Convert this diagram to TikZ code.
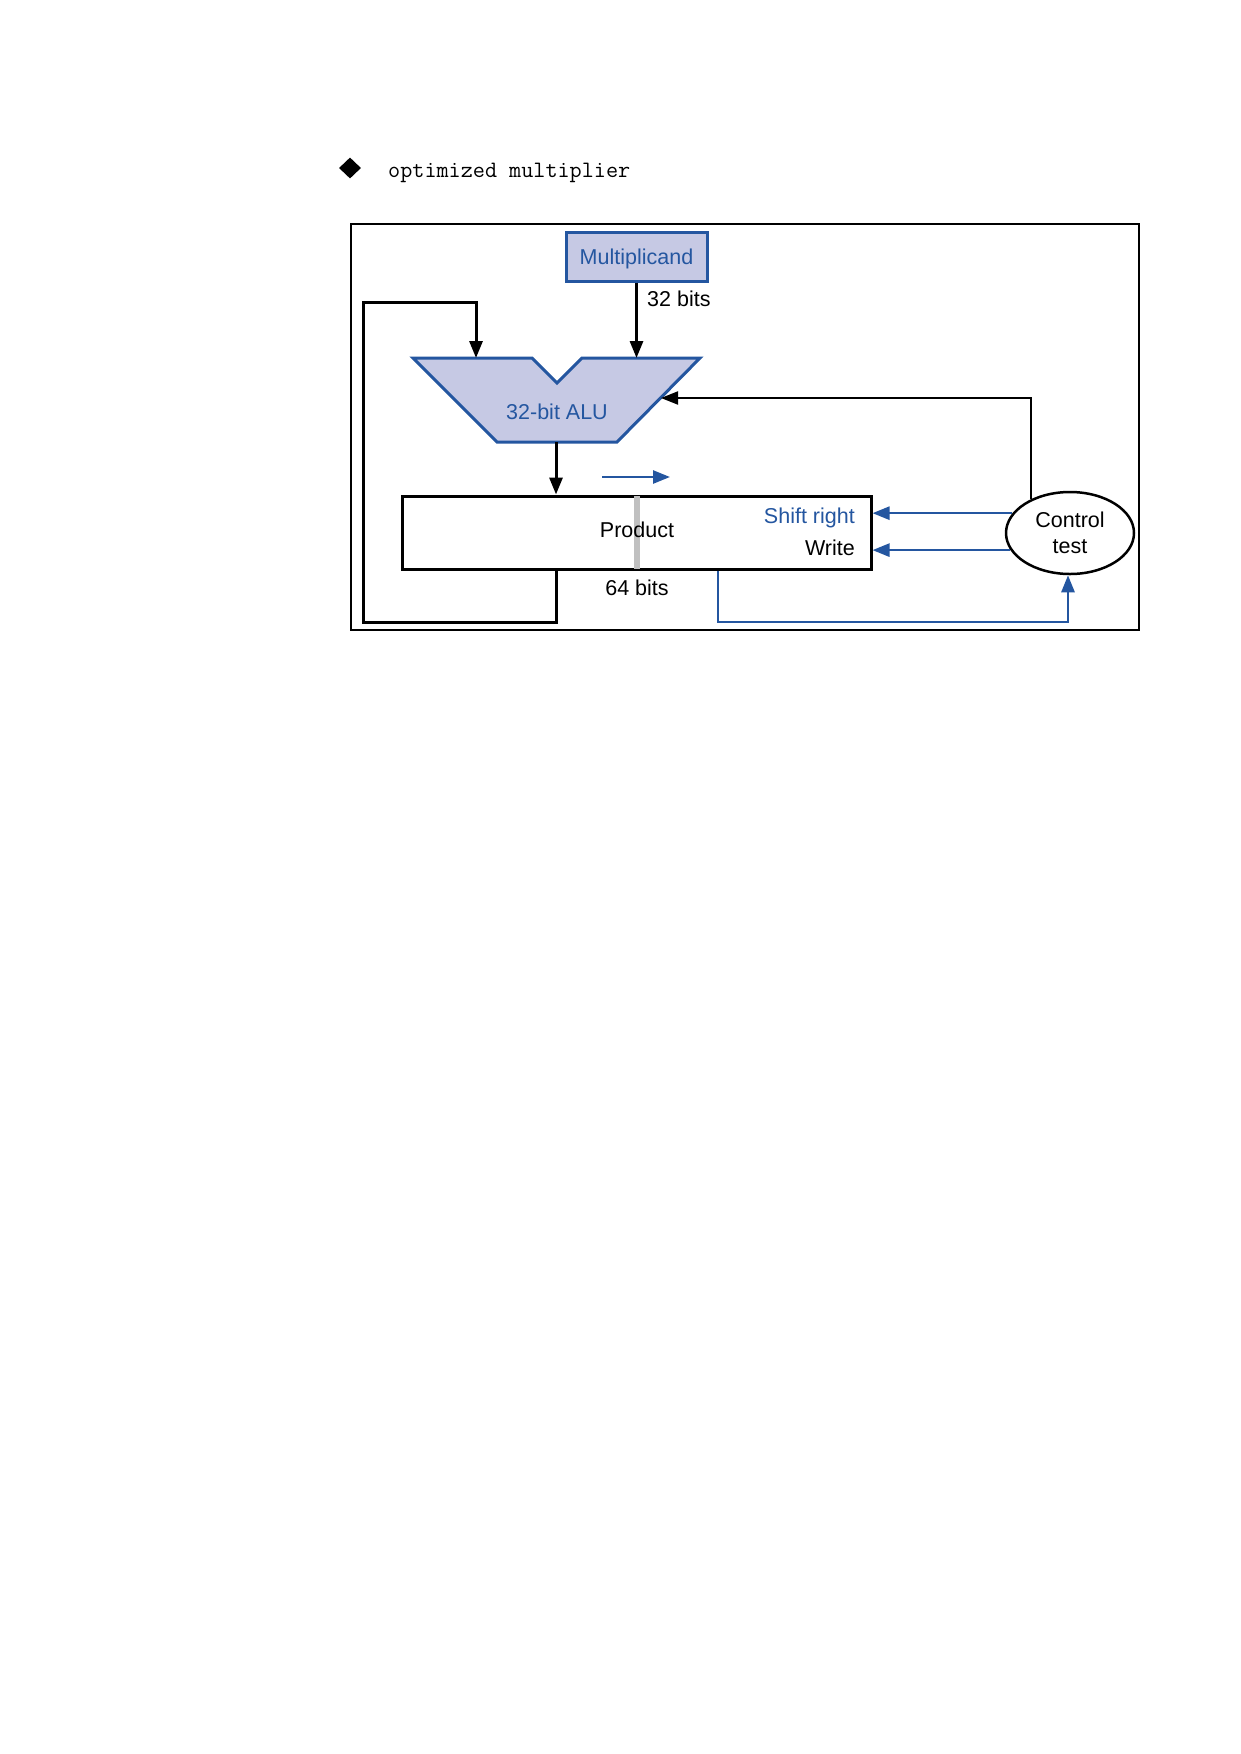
\documentclass[tikz,border=0pt]{standalone}
\usepackage{fontspec}
\newfontfamily\diagfont{Liberation Sans}
\usetikzlibrary{arrows.meta,shapes.geometric,calc}
\definecolor{pbblue}{RGB}{36,86,160}
\definecolor{alufill}{RGB}{198,201,228}
\definecolor{shiftgray}{RGB}{192,192,192}
\begin{document}
\begin{tikzpicture}[x=1pt,y=-1pt,
  lbl/.style={font=\diagfont\fontsize{21.5}{26}\selectfont, inner sep=0pt},
  tip/.style={-{Triangle[length=17pt,width=13pt]}},
  wire/.style={line width=3pt, line join=miter},
  bluewire/.style={line width=2.6pt, draw=pbblue, line join=miter},
  bluebox/.style={draw=pbblue, fill=alufill, line width=3pt}
]
\useasboundingbox (0,0) rectangle (1241,1754);
\fill[white] (0,0) rectangle (1241,1754);

% heading
\node[diamond, fill=black, inner sep=0pt, minimum width=22pt, minimum height=21pt] (bullet) at (350,168) {};
\node[anchor=base west, inner sep=0pt, font=\ttfamily\fontsize{23.5}{26}\selectfont] (title) at (388,177) {optimized multiplier};

% outer frame
\node[draw, line width=2pt, minimum width=788pt, minimum height=406pt, inner sep=0pt] (frame) at (745,427) {};

% multiplicand register
\node[bluebox, lbl, text=pbblue, text depth=0pt, minimum width=141pt, minimum height=49pt] (mcand) at (636.5,256.5) {Multiplicand};

% ALU
\draw[bluebox, line join=miter] (413,358) -- (532,358) -- (557,383) -- (582,358) -- (700,358) -- (617,442) -- (497,442) -- cycle;
\coordinate (aluA) at (476,358);
\coordinate (aluB) at (636.5,358);
\coordinate (aluC) at (661,398);
\coordinate (aluOut) at (556,442);
\node[lbl, anchor=base, text=pbblue] (alu) at (557,419) {32-bit ALU};

% product register
\node[draw, line width=3pt, minimum width=469pt, minimum height=73pt, inner sep=0pt] (prod) at (636.5,532.5) {};
\draw[shiftgray, line width=6pt] ([yshift=-1.5pt]prod.north) -- ([yshift=1.5pt]prod.south);
\node[lbl, anchor=base] (prodtxt) at (637,537) {Product};
\node[lbl, anchor=base east, text=pbblue] (shr) at (855,523) {Shift right};
\node[lbl, anchor=base east] (wr) at (855,555) {Write};
\node[lbl, anchor=base] (b64) at (637,595) {64 bits};

% control
\node[ellipse, draw, line width=2.5pt, fill=white, minimum width=128pt, minimum height=82pt, inner sep=0pt,
      lbl, align=center] (ctrl) at (1070,533) {Control\\test};

% data paths
\draw[wire, tip] (mcand.south) -- (aluB);
\node[lbl, anchor=base west] (b32) at (647,306) {32 bits};
\draw[wire, tip] (aluOut) -- (aluOut |- prod.north);

\coordinate (lpB) at (556,622);
\coordinate (lpL) at (363,622);
\coordinate (lpT) at (363,302);
\coordinate (lpR) at (476,302);
\draw[wire, tip] (aluOut |- prod.south) -- (lpB) -- (lpL) -- (lpT) -- (lpR) -- (aluA);

\draw[line width=2pt, line join=miter, tip] (ctrl.139) |- (aluC);

% control paths
\draw[bluewire, tip] (ctrl.161) -- (ctrl.161 -| prod.east);
\draw[bluewire, tip] (ctrl.196) -- (ctrl.196 -| prod.east);
\coordinate (bl) at (718,622);
\coordinate (br) at (1068,622);
\draw[bluewire, tip] (prod.south -| bl) -- (bl) -- (br) -- (ctrl.south -| br);

% shift direction
\coordinate (shA) at (602,477);
\coordinate (shB) at (670,477);
\draw[bluewire, tip] (shA) -- (shB);
\end{tikzpicture}
\end{document}
